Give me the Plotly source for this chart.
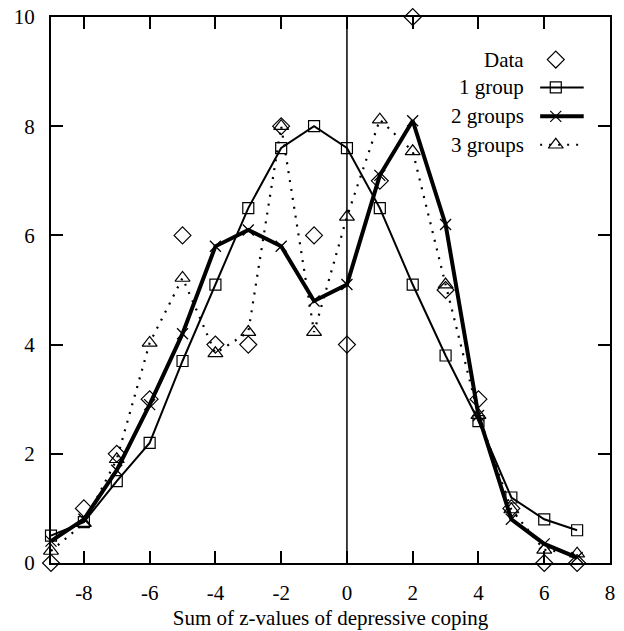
import plotly.graph_objects as go

x_vals = [-9, -8, -7, -6, -5, -4, -3, -2, -1, 0, 1, 2, 3, 4, 5, 6, 7]
data_vals = [0.0, 1.0, 2.0, 3.0, 6.0, 4.0, 4.0, 8.0, 6.0, 4.0, 7.0, 10.0, 5.0, 3.0, 1.0, 0.0, 0.0]
one_group = [0.5, 0.75, 1.5, 2.2, 3.7, 5.1, 6.5, 7.6, 8.0, 7.6, 6.5, 5.1, 3.8, 2.6, 1.2, 0.8, 0.6]
two_groups = [0.4, 0.8, 1.7, 2.9, 4.2, 5.8, 6.1, 5.8, 4.8, 5.1, 7.1, 8.1, 6.2, 2.7, 0.8, 0.35, 0.1]
three_groups = [0.22, 0.73, 1.9, 4.03, 5.22, 3.84, 4.23, 8.0, 4.23, 6.34, 8.12, 7.54, 5.1, 2.71, 0.98, 0.24, 0.17]

legend_labels = ["Data", "1 group", "2 groups", "3 groups"]
x_ticks = [-8, -6, -4, -2, 0, 2, 4, 6, 8]
y_ticks = [0, 2, 4, 6, 8, 10]
x_title = "Sum of z-values of depressive coping"

FONT = "Liberation Serif"
FS = 21
BLACK = "black"

fig = go.Figure()

# vertical line at x = 0
fig.add_shape(type="line", x0=0, x1=0, y0=0, y1=10, xref="x", yref="y",
              line=dict(color=BLACK, width=1.5), layer="below")

# 3 groups (dotted)
fig.add_trace(go.Scatter(x=x_vals, y=three_groups, mode="lines+markers",
                         line=dict(color=BLACK, width=2.2, dash="2px,7px"),
                         marker=dict(symbol="triangle-up-open", size=13, color=BLACK,
                                     line=dict(width=1.2, color=BLACK)),
                         cliponaxis=False, showlegend=False))
# 1 group (thin solid)
fig.add_trace(go.Scatter(x=x_vals, y=one_group, mode="lines+markers",
                         line=dict(color=BLACK, width=2),
                         marker=dict(symbol="square-open", size=11, color=BLACK,
                                     line=dict(width=1.2, color=BLACK)),
                         cliponaxis=False, showlegend=False))
# 2 groups (thick solid)
fig.add_trace(go.Scatter(x=x_vals, y=two_groups, mode="lines+markers",
                         line=dict(color=BLACK, width=4),
                         marker=dict(symbol="x-thin-open", size=11, color=BLACK,
                                     line=dict(width=1.3, color=BLACK)),
                         cliponaxis=False, showlegend=False))
# Data
fig.add_trace(go.Scatter(x=x_vals, y=data_vals, mode="markers",
                         marker=dict(symbol="diamond-open", size=13, color=BLACK,
                                     line=dict(width=1.2, color=BLACK)),
                         cliponaxis=False, showlegend=False))

# manual legend (gnuplot style: text right-aligned, sample to the right)
row_y = [0.922, 0.871, 0.818, 0.766]
text_x = 0.850
line_x0, line_x1 = 0.875, 0.953
mark_x = 0.903
legend_styles = [
    (None, dict(symbol="diamond-open", size=13)),
    (dict(width=2), dict(symbol="square-open", size=11)),
    (dict(width=4), dict(symbol="x-thin-open", size=11)),
    (dict(width=2.2, dash="2px,7px"), dict(symbol="triangle-up-open", size=13)),
]
for lab, ry, (ln, mk) in zip(legend_labels, row_y, legend_styles):
    fig.add_annotation(x=text_x, y=ry, xref="paper", yref="paper", text=lab,
                       showarrow=False, xanchor="right", yanchor="middle",
                       font=dict(family=FONT, size=FS, color=BLACK))
    if ln is not None:
        fig.add_trace(go.Scatter(x=[line_x0, line_x1], y=[ry, ry], mode="lines",
                                 line=dict(color=BLACK, **ln), xaxis="x2", yaxis="y2",
                                 showlegend=False, hoverinfo="skip"))
    fig.add_trace(go.Scatter(x=[mark_x], y=[ry], mode="markers",
                             marker=dict(color=BLACK, line=dict(width=1.2, color=BLACK), **mk),
                             xaxis="x2", yaxis="y2", showlegend=False, hoverinfo="skip"))

axis_common = dict(showgrid=False, zeroline=False, showline=True, mirror="allticks",
                   linecolor=BLACK, linewidth=2, ticks="inside", ticklen=12,
                   tickwidth=1.5, tickcolor=BLACK, automargin=False,
                   ticklabeloverflow="allow",
                   tickfont=dict(family=FONT, size=FS, color=BLACK))

fig.update_layout(
    width=624, height=631,
    margin=dict(l=51, r=14, t=17, b=68, autoexpand=False),
    paper_bgcolor="white", plot_bgcolor="white",
    font=dict(family=FONT, size=FS, color=BLACK),
    showlegend=False,
    xaxis=dict(range=[-9, 8], tickvals=x_ticks, ticktext=[str(v) for v in x_ticks],
               title=dict(text=x_title, font=dict(family=FONT, size=FS, color=BLACK), standoff=6),
               ticklabelstandoff=10, **axis_common),
    yaxis=dict(range=[0, 10], tickvals=y_ticks, ticktext=[str(v) for v in y_ticks],
               ticklabelstandoff=10, **axis_common),
    xaxis2=dict(overlaying="x", range=[0, 1], visible=False, fixedrange=True),
    yaxis2=dict(overlaying="y", range=[0, 1], visible=False, fixedrange=True),
)

# remove the default 8px page margin so the figure fills the window exactly
fig.write_html("out.html", config={"displayModeBar": False},
               post_script="document.body.style.margin='0';")
